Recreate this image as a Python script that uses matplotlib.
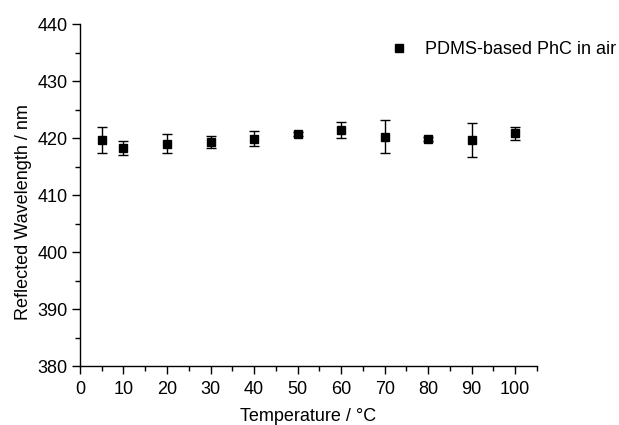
import matplotlib.pyplot as plt
from matplotlib.ticker import MultipleLocator

plt.rcParams['font.family'] = ['Liberation Sans', 'DejaVu Sans']

temperature = [5, 10, 20, 30, 40, 50, 60, 70, 80, 90, 100]
wavelength = [419.6, 418.3, 419.0, 419.3, 419.9, 420.7, 421.4, 420.2, 419.8, 419.6, 420.8]
wl_err = [2.3, 1.2, 1.7, 1.0, 1.3, 0.3, 1.4, 2.9, 0.4, 3.0, 1.2]

fig = plt.figure(figsize=(6.19, 4.25), dpi=100)
ax = fig.add_axes([0.1292, 0.1388, 0.7383, 0.8047])

ax.errorbar(temperature, wavelength, yerr=wl_err, fmt='none', ecolor='black',
            capsize=3.5, elinewidth=1, capthick=1)
ax.plot(temperature, wavelength, 's', color='black', markersize=5.5,
        linestyle='none', label='PDMS-based PhC in air')

ax.set_xlim(0, 105)
ax.set_ylim(380, 440)
ax.xaxis.set_major_locator(MultipleLocator(10))
ax.xaxis.set_minor_locator(MultipleLocator(5))
ax.yaxis.set_major_locator(MultipleLocator(10))
ax.yaxis.set_minor_locator(MultipleLocator(5))

for side in ['top', 'right']:
    ax.spines[side].set_visible(False)
for side in ['left', 'bottom']:
    ax.spines[side].set_linewidth(1)
ax.tick_params(which='major', direction='out', length=6, width=1, labelsize=13, pad=3)
ax.tick_params(which='minor', direction='out', length=3.5, width=1)
ax.tick_params(axis='x', which='major', pad=5)

ax.set_xlabel('Temperature / °C', fontsize=13, labelpad=7)
ax.set_ylabel('Reflected Wavelength / nm', fontsize=13)
ax.yaxis.set_label_coords(-0.105, 0.45)

leg = fig.legend(loc='center left', bbox_to_anchor=(390 / 619, 1 - 50 / 425),
                 frameon=False, fontsize=13, handlelength=1.0, handletextpad=0.95,
                 borderpad=0, borderaxespad=0, numpoints=1)

fig.savefig('out.png', dpi=100)
